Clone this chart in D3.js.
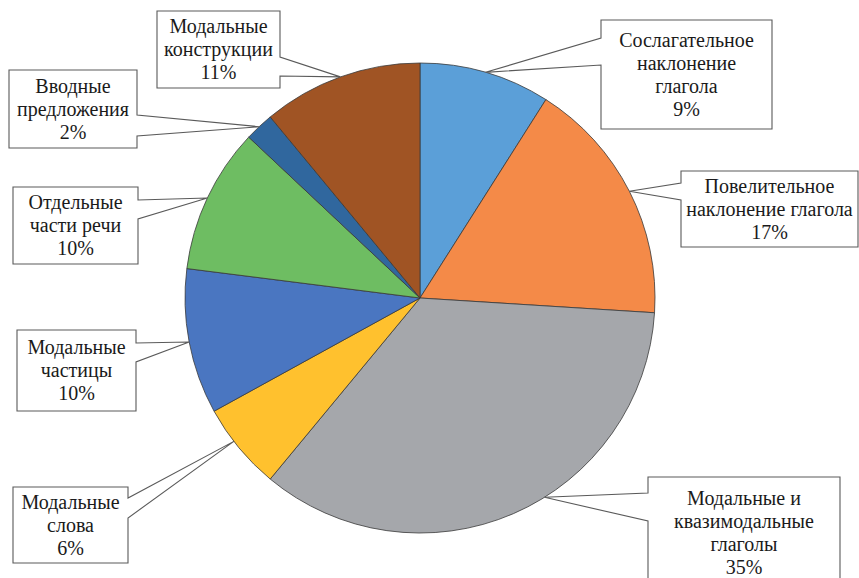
<!DOCTYPE html>
<html>
<head>
<meta charset="utf-8">
<script src="https://cdn.jsdelivr.net/npm/d3@7"></script>
<style>
  html, body { margin: 0; padding: 0; background: #fff; overflow: hidden; }
  #wrap { position: relative; width: 859px; height: 578px; }
  svg { display: block; position: absolute; left: 0; top: 0; }
  .lbl {
    position: absolute;
    font-family: "Liberation Serif", serif;
    font-size: 20px;
    line-height: 23px;
    color: #1a1a1a;
    text-align: center;
    white-space: nowrap;
  }
</style>
</head>
<body>
<div id="wrap"><svg id="chart" width="859" height="578"></svg></div>
<script>
// Category names (one line per entry) and their shares, clockwise from 12 o'clock
const categories = [
  ["Сослагательное", "наклонение", "глагола"],
  ["Повелительное", "наклонение глагола"],
  ["Модальные и", "квазимодальные", "глаголы"],
  ["Модальные", "слова"],
  ["Модальные", "частицы"],
  ["Отдельные", "части речи"],
  ["Вводные", "предложения"],
  ["Модальные", "конструкции"]
];
const values = [9, 17, 35, 6, 10, 10, 2, 11];
const colors = ["#5B9FD8", "#F48A48", "#A5A7AB", "#FFC12E", "#4A76C1", "#6EBD62", "#30679E", "#A05424"];

// Callout boxes: [left, top, right, bottom], side of the pointer notch, notch span, pointer angle shift (deg)
const callouts = [
  { box: [601, 20, 772, 129], side: "left",  notch: [38, 65],   shift: 0 },
  { box: [681, 171, 858, 247], side: "left", notch: [183, 200], shift: 0 },
  { box: [648, 477, 840, 588], side: "left", notch: [493, 521], shift: -8.6 },
  { box: [13, 487, 128, 563], side: "right", notch: [498, 518], shift: 2 },
  { box: [17, 330, 136, 411], side: "right", notch: [343, 362], shift: 0 },
  { box: [13, 187, 138, 264], side: "right", notch: [200, 219], shift: 0 },
  { box: [9, 70, 137, 148], side: "right",   notch: [115, 136], shift: 0 },
  { box: [157, 11, 280, 88], side: "right",  notch: [57, 76],   shift: 0 }
];

const svg = d3.select("#chart");
const wrap = d3.select("#wrap");
const cx = 420, cy = 298, R = 235;
const lineH = 23;

const pie = d3.pie().value(d => d).sort(null);
const arcs = pie(values);
const arc = d3.arc().innerRadius(0).outerRadius(R);

const g = svg.append("g").attr("transform", `translate(${cx},${cy})`);
g.selectAll("path.slice")
  .data(arcs)
  .join("path")
  .attr("class", "slice")
  .attr("d", arc)
  .attr("fill", (d, i) => colors[i])
  .attr("stroke", "#3a3a3a")
  .attr("stroke-width", 0.8)
  .attr("stroke-linejoin", "round");

// Callout shapes with pointers to the slice rims, plus their text
const total = d3.sum(values);
arcs.forEach((a, i) => {
  const c = callouts[i];
  const ang = (a.startAngle + a.endAngle) / 2 + c.shift * Math.PI / 180;
  const tx = cx + R * Math.sin(ang);
  const ty = cy - R * Math.cos(ang);
  const [x0, y0, x1, y1] = c.box;
  const [n0, n1] = c.notch;
  const p = d3.path();
  if (c.side === "left") {
    p.moveTo(x0, y0); p.lineTo(x1, y0); p.lineTo(x1, y1); p.lineTo(x0, y1);
    p.lineTo(x0, n1); p.lineTo(tx, ty); p.lineTo(x0, n0); p.closePath();
  } else {
    p.moveTo(x0, y0); p.lineTo(x1, y0); p.lineTo(x1, n0); p.lineTo(tx, ty);
    p.lineTo(x1, n1); p.lineTo(x1, y1); p.lineTo(x0, y1); p.closePath();
  }
  svg.append("path")
    .attr("d", p.toString())
    .attr("fill", "#fff")
    .attr("stroke", "#5a5a5a")
    .attr("stroke-width", 1.1)
    .attr("stroke-linejoin", "miter");

  const lines = categories[i].concat([Math.round(values[i] / total * 100) + "%"]);
  const blockH = lines.length * lineH;
  const top = (y0 + y1) / 2 - blockH / 2;
  const div = wrap.append("div")
    .attr("class", "lbl")
    .style("left", x0 + "px")
    .style("width", (x1 - x0) + "px")
    .style("top", top + "px");
  lines.forEach(s => div.append("div").text(s));
});
</script>
</body>
</html>
